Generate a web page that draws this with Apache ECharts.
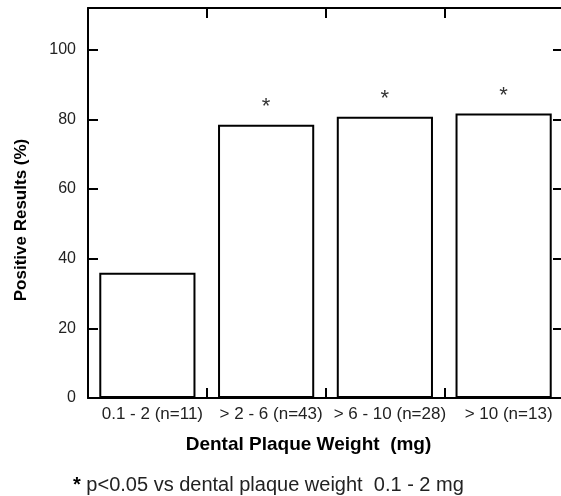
<!DOCTYPE html>
<html>
<head>
<meta charset="utf-8">
<script src="https://cdn.jsdelivr.net/npm/echarts@6/dist/echarts.min.js"></script>
<style>
html, body { margin: 0; padding: 0; background: #fff; }
#chart { width: 561px; height: 496px; }
</style>
</head>
<body>
<div id="chart"></div>
<script>
// plaque weight groups
const categories = ['0.1 - 2 (n=11)', '> 2 - 6 (n=43)', '> 6 - 10 (n=28)', '> 10 (n=13)'];
// positive results (%)
const positive = [36, 78.5, 80.8, 81.7];
// significance marks above bars
const marks = ['', '*', '*', '*'];
// labelled y ticks
const yTicks = [0, 20, 40, 60, 80, 100];

const font = 'Liberation Sans, Arial, sans-serif';
const black = '#000';

let chartDom = document.getElementById('chart');
let myChart = echarts.init(chartDom);
let option;

// frame axis styles (fresh objects for every axis)
function frameLine() {
  return { show: true, onZero: false, lineStyle: { color: black, width: 2 } };
}
function frameTick() {
  return { show: true, inside: true, length: 10, interval: 0, lineStyle: { color: black, width: 2 } };
}

option = {
  animation: false,
  grid: { left: 88, top: 8, width: 475, height: 390, outerBoundsMode: 'none', containLabel: false },
  xAxis: [
    {
      type: 'category',
      data: categories,
      position: 'bottom',
      axisLine: frameLine(),
      axisTick: frameTick(),
      axisLabel: { interval: 0, color: '#222', fontSize: 17, fontFamily: font, margin: 8, padding: [0, 0, 0, 10] },
      name: 'Dental Plaque Weight  (mg)',
      nameLocation: 'middle',
      nameGap: 37,
      nameTextStyle: { color: black, fontSize: 19, fontWeight: 'bold', fontFamily: font, padding: [0, 34, 0, 0] }
    },
    {
      type: 'category',
      data: categories,
      position: 'top',
      axisLine: frameLine(),
      axisTick: frameTick(),
      axisLabel: { show: false }
    }
  ],
  yAxis: [
    {
      type: 'value',
      min: 0,
      max: 112,
      interval: 20,
      position: 'left',
      axisLine: frameLine(),
      axisTick: frameTick(),
      splitLine: { show: false },
      axisLabel: {
        color: '#222', fontSize: 16, fontFamily: font, margin: 12,
        formatter: v => (yTicks.includes(v) ? String(v) : '')
      },
      name: 'Positive Results (%)',
      nameLocation: 'middle',
      nameGap: 58,
      nameTextStyle: { color: black, fontSize: 17, fontWeight: 'bold', fontFamily: font, padding: [0, 34, 0, 0] }
    },
    {
      type: 'value',
      min: 0,
      max: 112,
      interval: 20,
      position: 'right',
      axisLine: frameLine(),
      axisTick: frameTick(),
      splitLine: { show: false },
      axisLabel: { show: false }
    }
  ],
  series: [
    {
      type: 'bar',
      data: positive,
      barWidth: '81%',
      itemStyle: { color: '#fff', borderColor: black, borderWidth: 2 },
      label: {
        show: true,
        position: 'top',
        distance: 7,
        color: '#333',
        fontSize: 22,
        fontFamily: font,
        formatter: p => marks[p.dataIndex]
      }
    }
  ],
  graphic: [
    {
      type: 'text',
      left: 73,
      top: 475,
      style: {
        text: '{b|*} p<0.05 vs dental plaque weight  0.1 - 2 mg',
        font: '20px ' + font,
        fill: '#222',
        rich: { b: { fontSize: 20, fontWeight: 'bold', fill: black } }
      }
    }
  ]
};

option && myChart.setOption(option);
</script>
</body>
</html>
